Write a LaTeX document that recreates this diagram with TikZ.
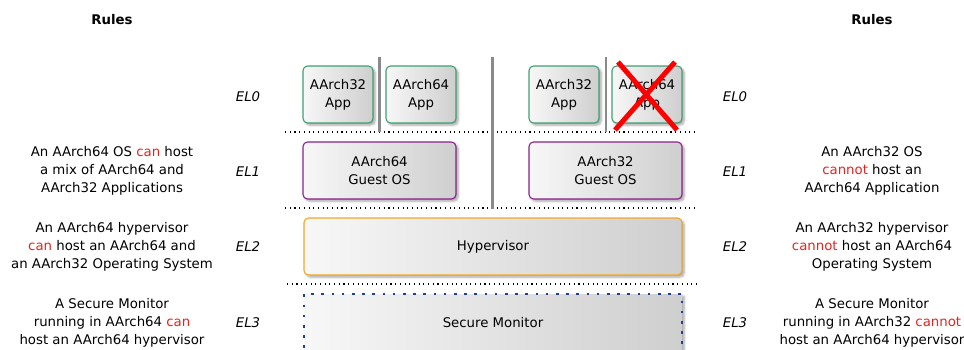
\documentclass[tikz,border=0pt]{standalone}
\usepackage{fontspec}
\setmainfont{DejaVu Sans}
\usetikzlibrary{shadows.blur}
\definecolor{appgreen}{HTML}{3F9F73}
\definecolor{ospurple}{HTML}{8B1F8B}
\definecolor{hyporange}{HTML}{F5A623}
\definecolor{monblue}{HTML}{1F3FA0}
\definecolor{sepgray}{HTML}{8A8A8A}
\definecolor{canred}{HTML}{E8221D}
\newcommand{\yes}[1]{\textcolor{canred}{#1}}
\tikzset{
  txt/.style={font=\fontsize{13.3}{18}\selectfont, align=center, inner sep=0pt},
  ellabel/.style={font=\fontsize{13.3}{18}\selectfont\itshape, inner sep=0pt},
  heading/.style={font=\fontsize{13.3}{18}\selectfont\bfseries, inner sep=0pt},
  layerbox/.style={txt, rectangle, rounded corners=4.5pt, line width=1.1pt,
    left color=black!3, right color=black!19,
    blur shadow={shadow xshift=2.2pt, shadow yshift=-2.2pt, shadow blur steps=6, shadow opacity=35},
    minimum height=57pt},
  appbox/.style={layerbox, draw=appgreen, minimum width=70pt},
  osbox/.style={layerbox, draw=ospurple, minimum width=153pt},
  hypbox/.style={layerbox, draw=hyporange, minimum width=378pt},
  monbox/.style={layerbox, draw=monblue, line width=2.6pt, line cap=butt,
    dash pattern=on 2.6pt off 7.6pt, rounded corners=0pt, minimum width=378pt, minimum height=80pt},
  levelsep/.style={line width=1.1pt, dash pattern=on 1.1pt off 3.6pt},
  splitter/.style={draw=sepgray, line width=2.6pt},
  cross/.style={draw=red, line width=5pt}
}
\begin{document}
\begin{tikzpicture}[x=1pt, y=-1pt]
\useasboundingbox (0,0) rectangle (964,349);

% headings
\node[heading] (rulesL) at (112,20) {Rules};
\node[heading] (rulesR) at (872,20) {Rules};

% exception levels
\node[ellabel] (el0L) at (248,97) {EL0};
\node[ellabel] (el1L) at (248,172) {EL1};
\node[ellabel] (el2L) at (248,247) {EL2};
\node[ellabel] (el3L) at (248,323) {EL3};
\node[ellabel] (el0R) at (735,97) {EL0};
\node[ellabel] (el1R) at (735,172) {EL1};
\node[ellabel] (el2R) at (735,247) {EL2};
\node[ellabel] (el3R) at (735,323) {EL3};

% rules, left column
\node[txt] (ruleL1) at (112,171) {An AArch64 OS \yes{can} host\\a mix of AArch64 and\\AArch32 Applications};
\node[txt] (ruleL2) at (112,247) {An AArch64 hypervisor\\\yes{can} host an AArch64 and\\an AArch32 Operating System};
\node[txt] (ruleL3) at (112,323) {A Secure Monitor\\running in AArch64 \yes{can}\\host an AArch64 hypervisor};

% rules, right column
\node[txt] (ruleR1) at (872,171) {An AArch32 OS\\\yes{cannot} host an\\AArch64 Application};
\node[txt] (ruleR2) at (872,247) {An AArch32 hypervisor\\\yes{cannot} host an AArch64\\Operating System};
\node[txt] (ruleR3) at (872,323) {A Secure Monitor\\running in AArch32 \yes{cannot}\\host an AArch64 hypervisor};

% software stack
\node[monbox] (mon) at (493,334) {};
\node[txt] (montext) at (493,323) {Secure Monitor};
\node[hypbox] (hyp) at (493,246.5) {Hypervisor};
\node[osbox] (os64) at (379.5,170.5) {AArch64\\Guest OS};
\node[osbox] (os32) at (605.5,170.5) {AArch32\\Guest OS};
\node[appbox] (app1) at (338,94.5) {AArch32\\App};
\node[appbox] (app2) at (421,94.5) {AArch64\\App};
\node[appbox] (app3) at (564,94.5) {AArch32\\App};
\node[appbox] (app4) at (647,94.5) {AArch64\\App};

% level separators
\coordinate (s0a) at (285,132); \coordinate (s0b) at (698,132);
\coordinate (s1a) at (285,208); \coordinate (s1b) at (698,208);
\coordinate (s2a) at (287,284); \coordinate (s2b) at (700,284);
\draw[levelsep] (s0a) -- (s0b);
\draw[levelsep] (s1a) -- (s1b);
\draw[levelsep] (s2a) -- (s2b);

% partitions between applications and guests
\coordinate (p1a) at (379.5,57); \coordinate (p1b) at (379.5,132);
\coordinate (p2a) at (492.5,57); \coordinate (p2b) at (492.5,209);
\coordinate (p3a) at (606,57);   \coordinate (p3b) at (606,132);
\draw[splitter] (p1a) -- (p1b);
\draw[splitter] (p2a) -- (p2b);
\draw[splitter] (p3a) -- (p3b);

% unsupported combination
\coordinate (xa) at (618,62);  \coordinate (xb) at (677,130);
\coordinate (xc) at (675,62);  \coordinate (xd) at (615,130);
\draw[cross] (xa) -- (xb);
\draw[cross] (xc) -- (xd);
\end{tikzpicture}
\end{document}
